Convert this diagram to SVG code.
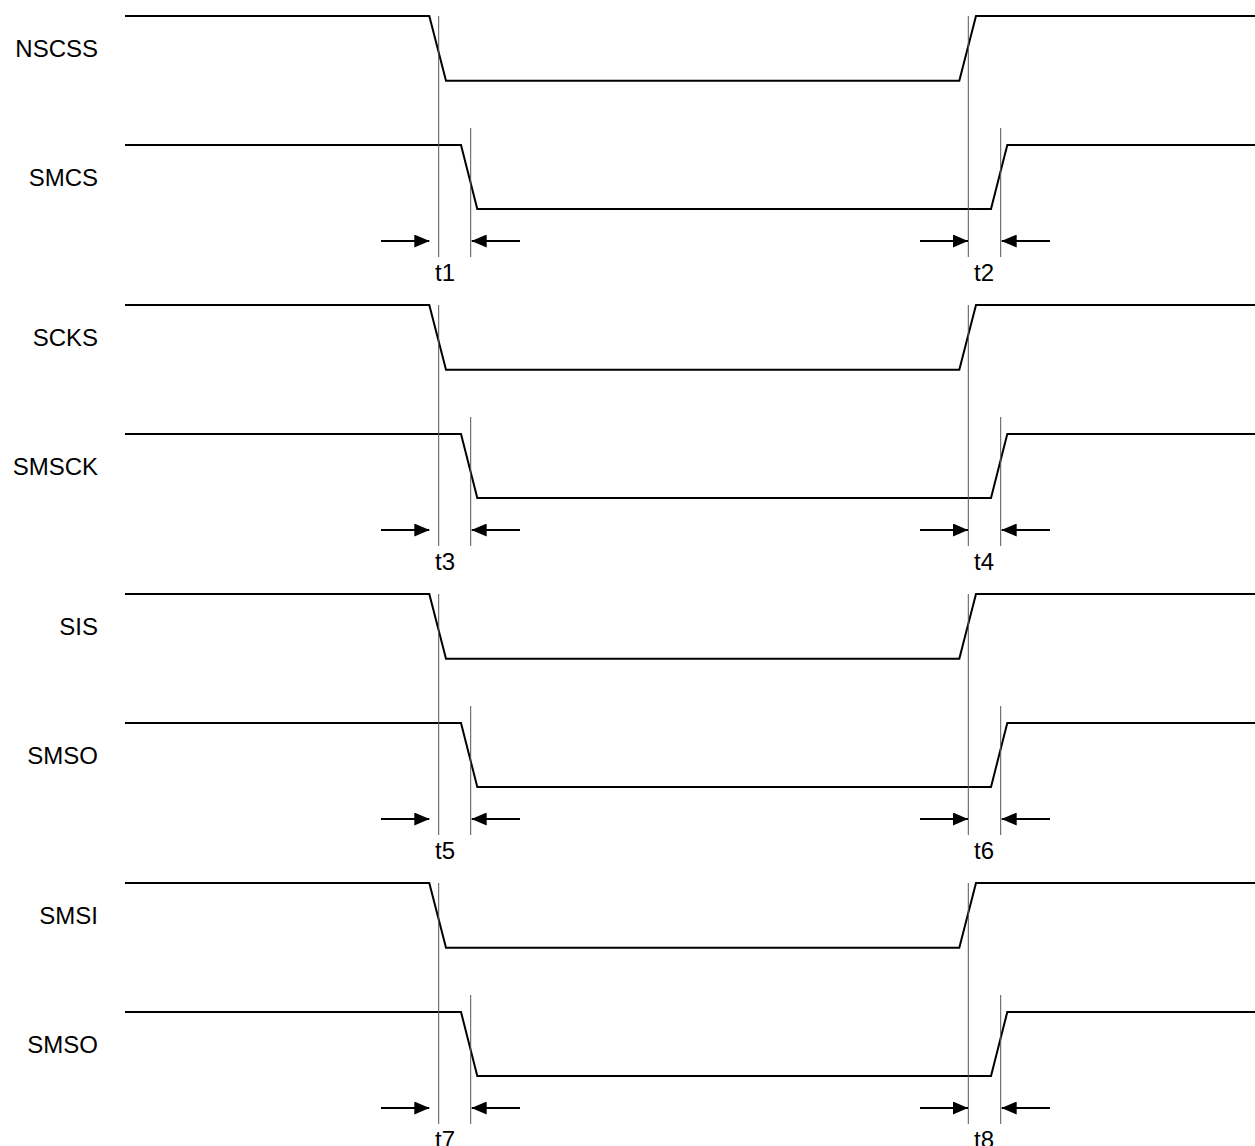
<svg xmlns="http://www.w3.org/2000/svg" width="1255" height="1146" viewBox="0 0 1255 1146">
<style>
.sig{fill:none;stroke:#000;stroke-width:2;stroke-linejoin:miter}
.ref{stroke:#555;stroke-width:1}
.arr{stroke:#000;stroke-width:2;marker-end:url(#ah)}
.lbl{font-family:"Liberation Sans",Arial,sans-serif;font-size:24px;fill:#000;text-anchor:end}
.tl{font-family:"Liberation Sans",Arial,sans-serif;font-size:24px;fill:#000;text-anchor:middle}
</style>
<defs>
<marker id="ah" markerUnits="userSpaceOnUse" viewBox="0 0 15 13" markerWidth="15" markerHeight="13" refX="15" refY="6.5" orient="auto">
<path d="M0,0 L15,6.5 L0,13 z" fill="#000"/>
</marker>
</defs>
<rect width="1255" height="1146" fill="#fff"/>

<g id="signals">
<g id="block1">
<g id="NSCSS"><path class="sig" d="M125,16 H429.3 L446,80.7 H959.3 L976,16 H1255"/><text class="lbl" x="98" y="57">NSCSS</text></g>
<g id="SMCS"><path class="sig" d="M125,145 H461 L477.3,209 H991 L1007.3,145 H1255"/><text class="lbl" x="98" y="186">SMCS</text></g>
<g id="t1"><text class="tl" x="445" y="281">t1</text></g>
<g id="t2"><text class="tl" x="984" y="281">t2</text></g>
</g>
<g id="block2" transform="translate(0,289)">
<g id="SCKS"><path class="sig" d="M125,16 H429.3 L446,80.7 H959.3 L976,16 H1255"/><text class="lbl" x="98" y="57">SCKS</text></g>
<g id="SMSCK"><path class="sig" d="M125,145 H461 L477.3,209 H991 L1007.3,145 H1255"/><text class="lbl" x="98" y="186">SMSCK</text></g>
<g id="t3"><text class="tl" x="445" y="281">t3</text></g>
<g id="t4"><text class="tl" x="984" y="281">t4</text></g>
</g>
<g id="block3" transform="translate(0,578)">
<g id="SIS"><path class="sig" d="M125,16 H429.3 L446,80.7 H959.3 L976,16 H1255"/><text class="lbl" x="98" y="57">SIS</text></g>
<g id="SMSO1"><path class="sig" d="M125,145 H461 L477.3,209 H991 L1007.3,145 H1255"/><text class="lbl" x="98" y="186">SMSO</text></g>
<g id="t5"><text class="tl" x="445" y="281">t5</text></g>
<g id="t6"><text class="tl" x="984" y="281">t6</text></g>
</g>
<g id="block4" transform="translate(0,867)">
<g id="SMSI"><path class="sig" d="M125,16 H429.3 L446,80.7 H959.3 L976,16 H1255"/><text class="lbl" x="98" y="57">SMSI</text></g>
<g id="SMSO2"><path class="sig" d="M125,145 H461 L477.3,209 H991 L1007.3,145 H1255"/><text class="lbl" x="98" y="186">SMSO</text></g>
<g id="t7"><text class="tl" x="445" y="281">t7</text></g>
<g id="t8"><text class="tl" x="984" y="281">t8</text></g>
</g>
</g>

<g id="connectors">
<g id="conn1">
<line class="ref" x1="438.7" y1="16" x2="438.7" y2="257"/>
<line class="ref" x1="470.7" y1="128" x2="470.7" y2="257"/>
<line class="ref" x1="968.3" y1="16" x2="968.3" y2="257"/>
<line class="ref" x1="1000.7" y1="128" x2="1000.7" y2="257"/>
<line class="arr" x1="381" y1="241" x2="429.3" y2="241"/>
<line class="arr" x1="520" y1="241" x2="471.7" y2="241"/>
<line class="arr" x1="920" y1="241" x2="968" y2="241"/>
<line class="arr" x1="1050" y1="241" x2="1001.7" y2="241"/>
</g>
<g id="conn2" transform="translate(0,289)">
<line class="ref" x1="438.7" y1="16" x2="438.7" y2="257"/>
<line class="ref" x1="470.7" y1="128" x2="470.7" y2="257"/>
<line class="ref" x1="968.3" y1="16" x2="968.3" y2="257"/>
<line class="ref" x1="1000.7" y1="128" x2="1000.7" y2="257"/>
<line class="arr" x1="381" y1="241" x2="429.3" y2="241"/>
<line class="arr" x1="520" y1="241" x2="471.7" y2="241"/>
<line class="arr" x1="920" y1="241" x2="968" y2="241"/>
<line class="arr" x1="1050" y1="241" x2="1001.7" y2="241"/>
</g>
<g id="conn3" transform="translate(0,578)">
<line class="ref" x1="438.7" y1="16" x2="438.7" y2="257"/>
<line class="ref" x1="470.7" y1="128" x2="470.7" y2="257"/>
<line class="ref" x1="968.3" y1="16" x2="968.3" y2="257"/>
<line class="ref" x1="1000.7" y1="128" x2="1000.7" y2="257"/>
<line class="arr" x1="381" y1="241" x2="429.3" y2="241"/>
<line class="arr" x1="520" y1="241" x2="471.7" y2="241"/>
<line class="arr" x1="920" y1="241" x2="968" y2="241"/>
<line class="arr" x1="1050" y1="241" x2="1001.7" y2="241"/>
</g>
<g id="conn4" transform="translate(0,867)">
<line class="ref" x1="438.7" y1="16" x2="438.7" y2="257"/>
<line class="ref" x1="470.7" y1="128" x2="470.7" y2="257"/>
<line class="ref" x1="968.3" y1="16" x2="968.3" y2="257"/>
<line class="ref" x1="1000.7" y1="128" x2="1000.7" y2="257"/>
<line class="arr" x1="381" y1="241" x2="429.3" y2="241"/>
<line class="arr" x1="520" y1="241" x2="471.7" y2="241"/>
<line class="arr" x1="920" y1="241" x2="968" y2="241"/>
<line class="arr" x1="1050" y1="241" x2="1001.7" y2="241"/>
</g>
</g>
</svg>
